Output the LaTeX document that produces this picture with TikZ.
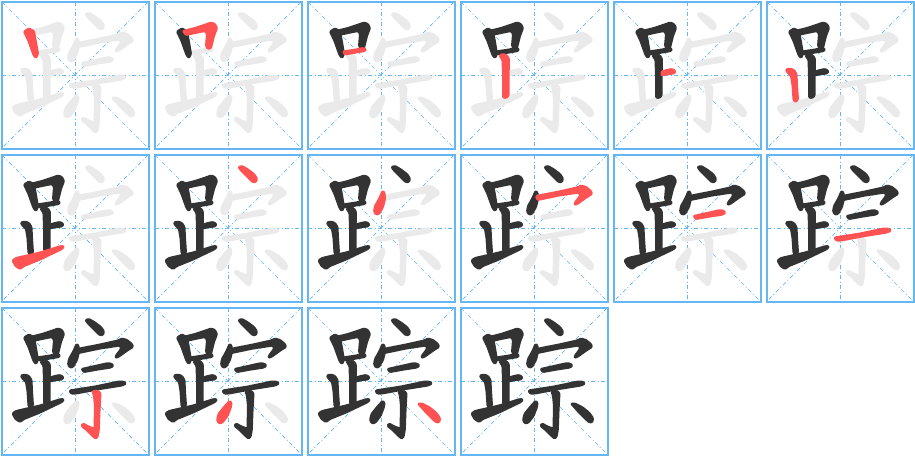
\documentclass[tikz,border=0pt]{standalone}
\definecolor{gridblue}{RGB}{100,182,244}
\definecolor{strokegray}{RGB}{234,234,234}
\definecolor{strokedark}{RGB}{51,51,51}
\definecolor{strokered}{RGB}{255,82,82}
\newcommand\stk[2]{%
\ifcase#1\or
\filldraw[#2] (24,31.5) -- (29,28.5) -- (34,31) -- (36,42) -- (38,54) -- (36,58) -- (33.5,55) -- (28.5,41) -- cycle;\or
\filldraw[#2] (30,31) -- (42,28) -- (54,24) -- (58,22.5) -- (62,24) -- (64,28) -- (61,36) -- (58,48) -- (55,49) -- (53,46) -- (54,34) -- (52,31) -- (42,33) -- (33,35) -- cycle;\or
\filldraw[#2] (37,51.5) -- (50,49.5) -- (57,48) -- (60,49) -- (59,51) -- (50,52.5) -- (39,54.5) -- cycle;\or
\filldraw[#2] (40.5,55.5) -- (44,54) -- (48,55.5) -- (50,59) -- (49.5,80) -- (49.5,96) -- (47,98) -- (44,97.5) -- (44,75) -- (43.5,60) -- cycle;\or
\filldraw[#2] (49.5,71.5) -- (56,69.8) -- (60,69) -- (63.5,71) -- (62,73.5) -- (55,74.2) -- (49.5,75.5) -- cycle;\or
\filldraw[#2] (21,69.5) -- (25,68.5) -- (29,70) -- (31.5,74) -- (32,85) -- (33,99.5) -- (30.5,102) -- (28.5,100) -- (27.5,85) -- (26,76) -- (22,72) -- cycle;\or
\filldraw[#2] (12.5,107.5) -- (16,105) -- (40,99.5) -- (61,93) -- (64,93.5) -- (62,96) -- (40,106.5) -- (24,113) -- (20,116) -- (15.5,113) -- cycle;\or
\filldraw[#2] (85.5,14) -- (89,13) -- (95,16.5) -- (101,21) -- (104,25.5) -- (103,29) -- (99.5,29) -- (95,24.5) -- (88,17.5) -- cycle;\or
\filldraw[#2] (76.5,38) -- (78.5,39.5) -- (79,46) -- (77,54) -- (73,61) -- (70,61.5) -- (68,58.5) -- (69,53) -- (73.5,45) -- cycle;\or
\filldraw[#2] (77,43) -- (100,38.5) -- (118,34.5) -- (122,32.5) -- (127,34) -- (132,38) -- (133,41) -- (128,44) -- (119,50.5) -- (115.5,52) -- (116,49.5) -- (121,43) -- (120,39.5) -- (100,42.5) -- (78.5,47) -- cycle;\or
\filldraw[#2] (81.5,63) -- (95,60) -- (107,57.3) -- (111,57.5) -- (113.5,59.5) -- (111,61.5) -- (98,63.5) -- (84,66) -- cycle;\or
\filldraw[#2] (69.5,84.5) -- (95,80.5) -- (119,75.5) -- (123,75.5) -- (126,77.5) -- (122,79.5) -- (100,83) -- (76,87.5) -- (71,87.5) -- cycle;\or
\filldraw[#2] (92.5,85.5) -- (97,84.5) -- (100.5,87) -- (99.5,105) -- (98.8,124) -- (97.5,131) -- (95.5,132.5) -- (92,129.5) -- (86,123.5) -- (81.5,120) -- (83,117.5) -- (89.5,121) -- (94.5,122.5) -- (95,100) -- (94,90) -- cycle;\or
\filldraw[#2] (76.5,95) -- (78.5,96.5) -- (78,101) -- (74.5,110) -- (69.5,116.5) -- (66,117.5) -- (64,114) -- (65.5,108) -- (71,101) -- cycle;\or
\filldraw[#2] (112,97.5) -- (116,97.5) -- (123,101) -- (130,106.5) -- (134,112) -- (133.5,116) -- (130.5,116.5) -- (127,113.5) -- (120,106.5) -- cycle;\fi}
\tikzset{
  cellborder/.style={draw=gridblue, line width=2pt},
  guide/.style={draw=gridblue, line width=0.7pt, dash pattern=on 4pt off 2.5pt on 1pt off 2.5pt},
  stroke base/.style={line width=2pt, line join=round, rounded corners=1pt},
  ghost/.style={stroke base, fill=strokegray, draw=strokegray},
  done/.style={stroke base, fill=strokedark, draw=strokedark},
  current/.style={stroke base, fill=strokered, draw=strokered}
}
\begin{document}
\begin{tikzpicture}[x=1pt,y=-1pt]
\useasboundingbox (0,0) rectangle (915,456);
\fill[white] (0,0) rectangle (915,456);
\foreach \k in {1,...,16} {
  \pgfmathtruncatemacro\col{mod(\k-1,6)}
  \pgfmathtruncatemacro\row{div(\k-1,6)}
  \begin{scope}[shift={(153*\col,153*\row)}]
    \draw[guide] (75,2) -- (75,148);
    \draw[guide] (2,75) -- (148,75);
    \draw[guide] (2,2) -- (148,148);
    \draw[guide] (148,2) -- (2,148);
    \foreach \s in {1,...,15} {
      \ifnum\s>\k \stk{\s}{ghost}\fi
    }
    \foreach \s in {1,...,15} {
      \ifnum\s<\k \stk{\s}{done}\fi
      \ifnum\s=\k \stk{\s}{current}\fi
    }
    \draw[cellborder] (1.5,1.5) rectangle (149,149);
  \end{scope}
}
\end{tikzpicture}
\end{document}
